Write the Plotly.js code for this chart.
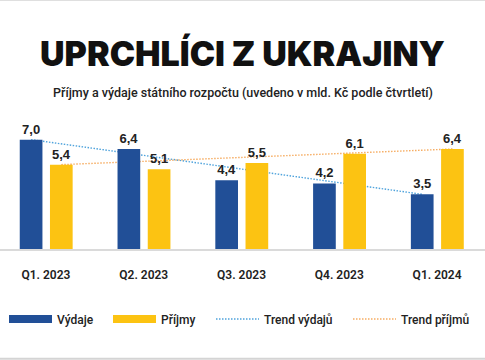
<!DOCTYPE html>
<html><head><meta charset="utf-8">
<script src="https://cdn.plot.ly/plotly-3.0.1.min.js"></script>
<style>html,body{margin:0;padding:0;background:#fff}#chart{width:485px;height:360px}</style>
</head><body><div id="chart"></div>
<script>
const categories = ['Q1. 2023', 'Q2. 2023', 'Q3. 2023', 'Q4. 2023', 'Q1. 2024'];
const vydaje = [7.0, 6.4, 4.4, 4.2, 3.5];
const prijmy = [5.4, 5.1, 5.5, 6.1, 6.4];
const seriesNames = ['Výdaje', 'Příjmy', 'Trend výdajů', 'Trend příjmů'];
const titleText = 'UPRCHLÍCI Z UKRAJINY';
const subtitleText = 'Příjmy a výdaje státního rozpočtu (uvedeno v mld. Kč podle čtvrtletí)';

const BLUE = '#214f97', YELLOW = '#fcc312', TBLUE = '#4fa3dc', TORANGE = '#f6ad63';
const FONT = 'Liberation Sans, Arial, sans-serif';
const MED = 'Roboto, Liberation Sans, sans-serif';
const idx = categories.map((c, i) => i);
const fmt = v => v.toFixed(1).replace('.', ',');
const barW = 0.232, offB = -0.268, offY = 0.041;
const last = categories.length - 1;

const data = [
  {type: 'scatter', mode: 'lines', name: seriesNames[2], legend: 'legend3',
   x: [idx[0] + offB + barW / 2, idx[last] + offB + barW / 2], y: [vydaje[0], vydaje[last]],
   line: {color: TBLUE, width: 1.4, dash: '1.5px,1.5px'}, xaxis: 'x', yaxis: 'y', hoverinfo: 'skip'},
  {type: 'scatter', mode: 'lines', name: seriesNames[3], legend: 'legend4',
   x: [idx[0] + offY + barW / 2, idx[last] + offY + barW / 2], y: [prijmy[0], prijmy[last]],
   line: {color: TORANGE, width: 1.4, dash: '1.5px,1.5px'}, xaxis: 'x', yaxis: 'y', hoverinfo: 'skip'},
  {type: 'bar', name: seriesNames[0], x: idx, y: vydaje, width: barW, offset: offB,
   marker: {color: BLUE}, text: vydaje.map(fmt), textposition: 'outside', cliponaxis: false,
   textfont: {family: FONT, size: 13, color: '#222', weight: 700}, showlegend: false,
   xaxis: 'x2', yaxis: 'y2'},
  {type: 'bar', name: seriesNames[1], x: idx, y: prijmy, width: barW, offset: offY,
   marker: {color: YELLOW}, text: prijmy.map(fmt), textposition: 'outside', cliponaxis: false,
   textfont: {family: FONT, size: 13, color: '#222', weight: 700}, showlegend: false,
   xaxis: 'x2', yaxis: 'y2'},
  {type: 'scatter', mode: 'lines', name: seriesNames[0], legend: 'legend', x: [null], y: [null],
   line: {color: BLUE, width: 8}, xaxis: 'x2', yaxis: 'y2'},
  {type: 'scatter', mode: 'lines', name: seriesNames[1], legend: 'legend2', x: [null], y: [null],
   line: {color: YELLOW, width: 8}, xaxis: 'x2', yaxis: 'y2'}
];

const xr = [-0.47, 4.49], yr = [0, 8];
const legFont = {family: MED, size: 12, color: '#222', weight: 500};
const mkLeg = px => ({orientation: 'h', x: (px - 4) / 485, xanchor: 'left', y: -0.56, yanchor: 'middle',
  itemwidth: 43, font: legFont, bgcolor: 'rgba(0,0,0,0)'});
const layout = {
  width: 485, height: 360,
  margin: {l: 0, r: 0, t: 124.4, b: 111, pad: 0},
  paper_bgcolor: '#fff', plot_bgcolor: 'rgba(0,0,0,0)',
  font: {family: FONT, color: '#222'},
  showlegend: true,
  title: {text: titleText, x: 0.5, xanchor: 'center', y: 1 - 54 / 360, yanchor: 'middle',
          yref: 'container', font: {family: 'Inter, Liberation Sans, sans-serif', size: 34, weight: 900, color: '#111'}},
  xaxis: {range: xr, visible: false, fixedrange: true},
  yaxis: {range: yr, visible: false, fixedrange: true},
  xaxis2: {range: xr, overlaying: 'x', tickmode: 'array', tickvals: idx, ticktext: categories,
           ticks: 'outside', ticklen: 14, tickcolor: 'rgba(0,0,0,0)',
           tickfont: {family: MED, size: 12, color: '#222', weight: 600},
           showgrid: false, zeroline: false, showline: true, linecolor: '#dadada', linewidth: 2},
  yaxis2: {range: yr, overlaying: 'y', visible: false},
  barmode: 'overlay',
  legend: mkLeg(8), legend2: mkLeg(112), legend3: mkLeg(215), legend4: mkLeg(352),
  annotations: [
    {text: subtitleText, xref: 'paper', yref: 'paper', x: 0.5, y: (249 - 93) / 124.6,
     xanchor: 'center', yanchor: 'middle', showarrow: false,
     font: {family: MED, size: 12.5, color: '#222', weight: 500}}
  ],
  shapes: [
    {type: 'line', xref: 'paper', yref: 'paper', x0: 0, x1: 1, y0: (249 - 0.5) / 124.6, y1: (249 - 0.5) / 124.6,
     line: {color: '#d4d4d4', width: 2}},
    {type: 'line', xref: 'paper', yref: 'paper', x0: 0, x1: 1, y0: (249 - 358.5) / 124.6, y1: (249 - 358.5) / 124.6,
     line: {color: '#d4d4d4', width: 2}}
  ]
};

Plotly.newPlot('chart', data, layout, {displayModeBar: false, staticPlot: true});
</script></body></html>
